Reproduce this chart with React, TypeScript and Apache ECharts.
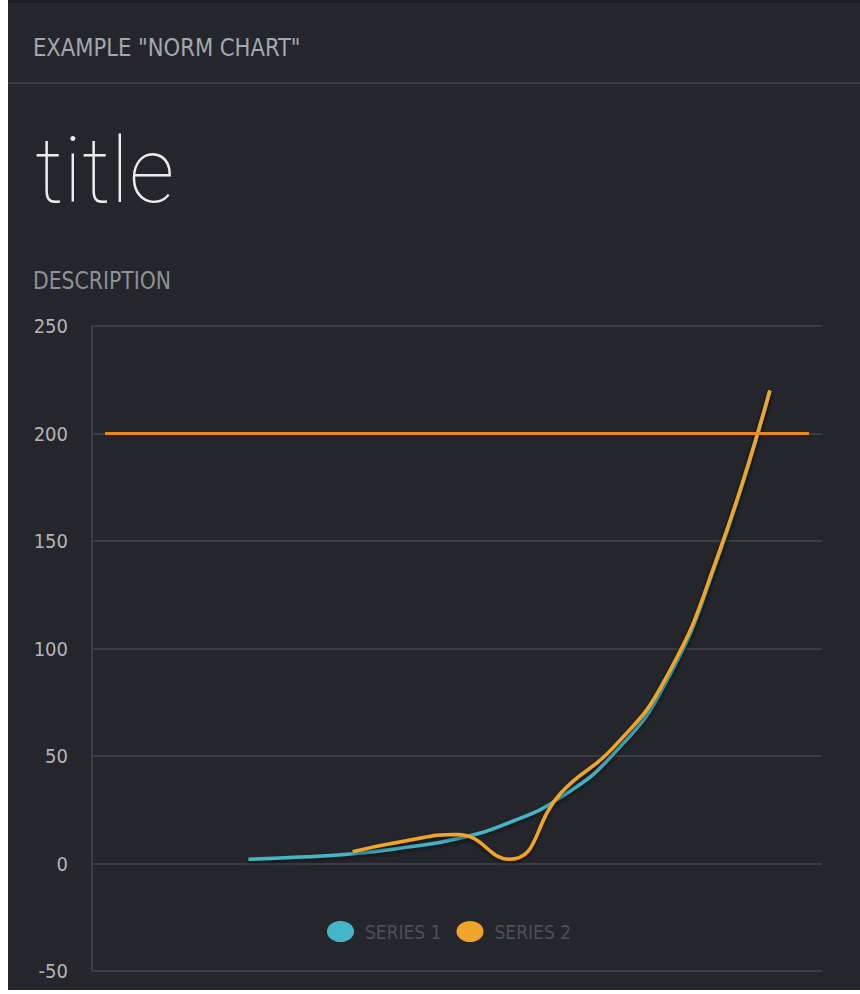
import React, { useEffect, useRef } from "react";
import * as echarts from "echarts";

const headerText = 'EXAMPLE "NORM CHART"';
const titleText = "title";
const descriptionText = "DESCRIPTION";

const seriesNames = ["SERIES 1", "SERIES 2"];
const series1X = [3, 4, 5, 6, 7, 8, 9, 10, 11, 12, 13];
const series1Values = [2, 3, 4.5, 7.5, 11.5, 19, 31, 51, 84, 142, 220];
const series2X = [5, 6, 7, 8, 9, 10, 11, 12, 13];
const series2Values = [5.5, 10.5, 13.5, 2, 33, 54, 86, 143, 220];
const normValue = 200;
const normRange = [0.25, 13.75];
const yTicks = [-50, 0, 50, 100, 150, 200, 250];

const FONT = "'DejaVu Sans Condensed', 'Liberation Sans Narrow', 'Roboto', sans-serif";

export default function App() {
  const ref = useRef<HTMLDivElement>(null);
  useEffect(() => {
    if (!ref.current) return;
    const chart = echarts.init(ref.current, undefined, { renderer: "svg" });
    const shadow = {
      shadowColor: "rgba(0,0,0,0.55)",
      shadowBlur: 4,
      shadowOffsetY: 2,
    };
    chart.setOption({
      animation: false,
      backgroundColor: "#24262b",
      graphic: [
        { type: "rect", shape: { x: 0, y: 0, width: 852, height: 3 }, style: { fill: "#1b1d21" } },
        { type: "rect", shape: { x: 0, y: 82, width: 852, height: 2 }, style: { fill: "#383b40" } },
        {
          type: "text",
          x: 25,
          y: 47,
          scaleX: 0.94,
          style: { text: headerText, fill: "#a4a8ad", font: `25px ${FONT}`, textVerticalAlign: "middle" },
        },
        {
          type: "text",
          x: 27,
          y: 171,
          scaleX: 1.0,
          style: { text: titleText, fill: "#ececec", font: `100 90px Roboto, sans-serif`, textVerticalAlign: "middle" },
        },
        {
          type: "text",
          x: 25,
          y: 281,
          scaleX: 0.945,
          style: { text: descriptionText, fill: "#8e9297", font: `24px ${FONT}`, textVerticalAlign: "middle" },
        },
      ],
      grid: { left: 84, right: 38, top: 326, bottom: 19 },
      legend: {
        left: 319,
        top: 921,
        padding: 0,
        itemWidth: 27,
        itemHeight: 21,
        itemGap: 15,
        icon: "path://M0,10.5 A13.5,10.5 0 1,1 27,10.5 A13.5,10.5 0 1,1 0,10.5 Z",
        textStyle: { color: "#4c4f54", fontSize: 19, fontFamily: FONT, padding: [0, 0, 0, 6] },
        data: seriesNames,
      },
      xAxis: {
        type: "value",
        min: 0,
        max: 14,
        show: false,
      },
      yAxis: {
        type: "value",
        min: yTicks[0],
        max: yTicks[yTicks.length - 1],
        interval: 50,
        axisLine: { show: true, lineStyle: { color: "#3a3d42", width: 2 } },
        axisTick: { show: false },
        axisLabel: { color: "#b2b5b9", fontSize: 20, fontFamily: FONT, margin: 24 },
        splitLine: { lineStyle: { color: "#3a3d42", width: 2 } },
      },
      series: [
        {
          name: seriesNames[0],
          type: "line",
          smooth: true,
          showSymbol: false,
          symbol: "none",
          color: "#45b6c8",
          lineStyle: { width: 3.5, color: "#45b6c8", ...shadow },
          data: series1X.map((x, i) => [x, series1Values[i]]),
          z: 2,
        },
        {
          name: seriesNames[1],
          type: "line",
          smooth: true,
          showSymbol: false,
          symbol: "none",
          color: "#f0a52a",
          lineStyle: { width: 3.5, color: "#f0a52a", ...shadow },
          data: series2X.map((x, i) => [x, series2Values[i]]),
          z: 3,
          markLine: {
            silent: true,
            symbol: "none",
            label: { show: false },
            lineStyle: { color: "#e8891c", width: 3, type: "solid" },
            data: [[{ coord: [normRange[0], normValue] }, { coord: [normRange[1], normValue] }]],
          },
        },
      ],
    });
    return () => chart.dispose();
  }, []);
  return (
    <div
      ref={ref}
      style={{ position: "absolute", left: 8, top: 0, width: 852, height: 990 }}
    />
  );
}
